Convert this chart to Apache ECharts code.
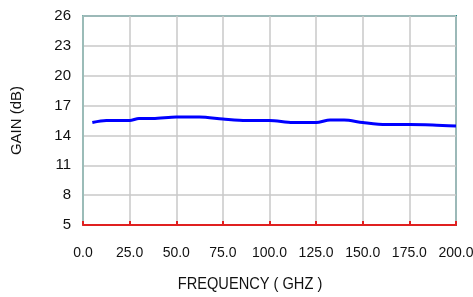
<!DOCTYPE html>
<html>
<head>
<meta charset="utf-8">
<script src="https://cdn.jsdelivr.net/npm/echarts@6/dist/echarts.min.js"></script>
<style>
  html, body { margin: 0; padding: 0; background: #fff; }
  #main { width: 473px; height: 297px; }
</style>
</head>
<body>
<div id="main"></div>
<script>
// gain curve
var freq = [5, 12.5, 25, 30, 37.5, 50, 62.5, 75, 87.5, 100, 112.5, 125, 132.5, 140, 150, 162.5, 175, 187.5, 200];
var gain = [15.3, 15.5, 15.5, 15.7, 15.7, 15.85, 15.85, 15.65, 15.5, 15.5, 15.3, 15.3, 15.55, 15.55, 15.3, 15.1, 15.1, 15.05, 14.95];

var chart = echarts.init(document.getElementById('main'));
var font = 'Liberation Sans, Arial, sans-serif';

chart.setOption({
  animation: false,
  grid: {
    left: 83, right: 17, top: 16, bottom: 72,
    outerBoundsMode: 'none',
    containLabel: false,
    show: true,
    borderColor: '#1a8c88',
    borderWidth: 2
  },
  // condensed axis title, like the original
  graphic: [{
    type: 'text',
    x: 250, y: 284,
    scaleX: 0.86,
    style: {
      text: 'FREQUENCY ( GHZ )',
      font: '17px Liberation Sans, Arial, sans-serif',
      fill: '#111',
      textAlign: 'center',
      textVerticalAlign: 'middle'
    }
  }],
  xAxis: {
    type: 'value',
    min: 0, max: 200, interval: 25,
    axisLine: { lineStyle: { color: '#e02020', width: 2 } },
    axisTick: { inside: true, length: 4, lineStyle: { color: '#e02020', width: 2 } },
    axisLabel: {
      margin: 21, fontFamily: font, fontSize: 14, color: '#111',
      formatter: function (v) { return v.toFixed(1); }
    },
    splitLine: { lineStyle: { color: '#c8c8c8', width: 1.5 } }
  },
  yAxis: {
    type: 'value',
    min: 5, max: 26, interval: 3,
    name: 'GAIN (dB)',
    nameLocation: 'middle',
    nameGap: 59,
    nameTextStyle: { fontFamily: font, fontSize: 15, color: '#111' },
    axisLine: { show: true, lineStyle: { color: '#9bbcb8', width: 2 } },
    axisTick: { show: false },
    axisLabel: { margin: 12, fontFamily: font, fontSize: 15, color: '#111' },
    splitLine: { lineStyle: { color: '#c8c8c8', width: 1.5 } }
  },
  series: [{
    type: 'line',
    data: freq.map(function (f, i) { return [f, gain[i]]; }),
    showSymbol: false,
    smooth: 0.3,
    lineStyle: { color: '#0000ff', width: 3 }
  }]
});
</script>
</body>
</html>
